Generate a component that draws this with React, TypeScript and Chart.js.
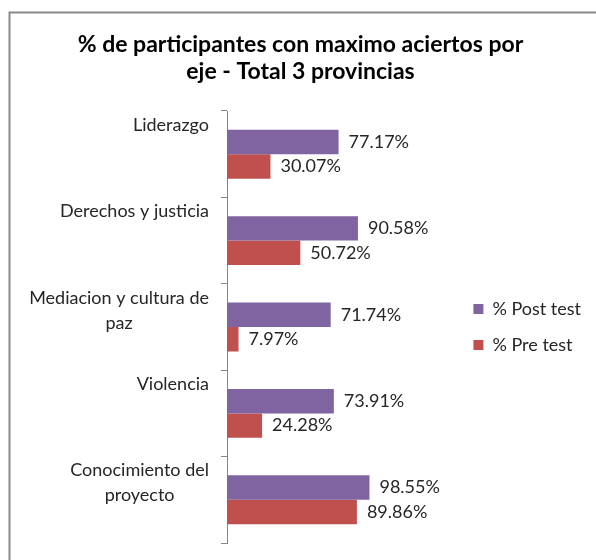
import React, { useEffect, useRef } from 'react';
import { Chart, registerables } from 'chart.js';

Chart.register(...registerables);

const titleLines = ['% de participantes con maximo aciertos por', 'eje - Total 3 provincias'];
const categories = ['Liderazgo', 'Derechos y justicia', 'Mediacion y cultura de paz', 'Violencia', 'Conocimiento del proyecto'];
const categoryLines = [['Liderazgo'], ['Derechos y justicia'], ['Mediacion y cultura de', 'paz'], ['Violencia'], ['Conocimiento del', 'proyecto']];
const seriesNames = ['% Post test', '% Pre test'];
const postTest = [77.17, 90.58, 71.74, 73.91, 98.55];
const preTest = [30.07, 50.72, 7.97, 24.28, 89.86];

const framePlugin = {
  id: 'frame',
  beforeDraw(chart: any) {
    const ctx = chart.ctx;
    ctx.save();
    ctx.fillStyle = '#ffffff';
    ctx.fillRect(0, 0, chart.width, chart.height);
    ctx.strokeStyle = '#8a8a8a';
    ctx.lineWidth = 2;
    ctx.strokeRect(9.5, 12.5, chart.width + 40, chart.height + 40);
    ctx.restore();
  },
};

// Category labels: block right-aligned next to the axis, lines centred within the block,
// block top-aligned in its category band (as in the original spreadsheet chart).
const categoryLabelPlugin = {
  id: 'categoryLabels',
  afterDraw(chart: any) {
    const ctx = chart.ctx;
    const yScale = chart.scales.y;
    const lineHeight = 25;
    ctx.save();
    ctx.font = '18px Lato';
    ctx.fillStyle = '#262626';
    ctx.textBaseline = 'middle';
    ctx.textAlign = 'center';
    const rightEdge = yScale.right - 18;
    categoryLines.forEach((lines, i) => {
      const a = yScale.getPixelForValue(i - 0.5);
      const b = yScale.getPixelForValue(i + 0.5);
      const top = Math.min(a, b);
      const blockWidth = Math.max(...lines.map((l) => ctx.measureText(l).width));
      const cx = rightEdge - blockWidth / 2;
      lines.forEach((line, k) => {
        ctx.fillText(line, cx, top + 14 + k * lineHeight);
      });
    });
    ctx.restore();
  },
};

const valueLabelPlugin = {
  id: 'valueLabels',
  afterDatasetsDraw(chart: any) {
    const ctx = chart.ctx;
    ctx.save();
    ctx.font = '18px Lato';
    ctx.fillStyle = '#262626';
    ctx.textBaseline = 'middle';
    ctx.textAlign = 'left';
    chart.data.datasets.forEach((ds: any, di: number) => {
      const meta = chart.getDatasetMeta(di);
      meta.data.forEach((bar: any, i: number) => {
        const v = ds.data[i] as number;
        ctx.fillText(v.toFixed(2) + '%', bar.x + 10, bar.y);
      });
    });
    ctx.restore();
  },
};

export default function App() {
  const ref = useRef<HTMLCanvasElement | null>(null);

  useEffect(() => {
    if (!ref.current) return;
    const chart = new Chart(ref.current, {
      type: 'bar',
      data: {
        labels: categories,
        datasets: [
          {
            label: seriesNames[0],
            data: postTest,
            backgroundColor: '#8064A2',
            categoryPercentage: 0.566,
            barPercentage: 1,
          },
          {
            label: seriesNames[1],
            data: preTest,
            backgroundColor: '#C0504D',
            categoryPercentage: 0.566,
            barPercentage: 1,
          },
        ],
      },
      options: {
        indexAxis: 'y',
        responsive: false,
        animation: false,
        events: [],
        layout: { padding: { left: 10, right: 5, top: 31.5, bottom: 17 } },
        plugins: {
          tooltip: { enabled: false },
          title: {
            display: true,
            text: titleLines,
            color: '#000000',
            font: { family: 'Lato', size: 23, weight: 'bold', lineHeight: 27 / 23 },
            padding: { top: 0, bottom: 25.5 },
          },
          legend: {
            position: 'right',
            align: 'center',
            fullSize: false,
            labels: {
              boxWidth: 10,
              boxHeight: 10,
              padding: 18,
              color: '#262626',
              font: { family: 'Lato', size: 18 },
            },
          },
        },
        scales: {
          x: { display: false, min: 0, max: 158 },
          y: {
            afterFit: (s: any) => {
              s.width = 217;
              s.paddingTop = 0;
              s.paddingBottom = 0;
            },
            ticks: {
              display: false,
              autoSkip: false,
            },
            grid: {
              display: true,
              drawOnChartArea: false,
              drawTicks: true,
              tickLength: 6,
              color: '#868686',
              offset: true,
            },
            border: { display: true, color: '#868686', width: 1 },
          },
        },
      },
      plugins: [framePlugin, valueLabelPlugin, categoryLabelPlugin],
    });
    return () => chart.destroy();
  }, []);

  return (
    <div style={{ position: 'fixed', left: 0, top: 0, width: 596, height: 560 }}>
      <canvas ref={ref} width={596} height={560} style={{ display: 'block' }} />
    </div>
  );
}
